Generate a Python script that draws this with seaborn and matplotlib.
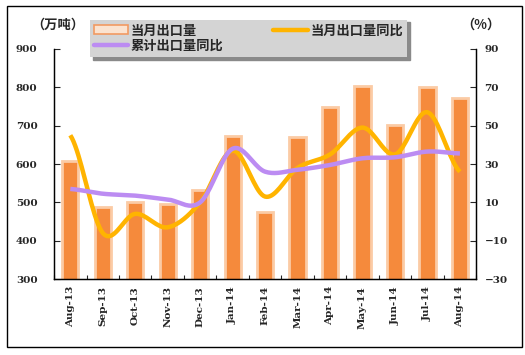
import numpy as np
import pandas as pd
import seaborn as sns
import matplotlib.pyplot as plt
from matplotlib.patches import Patch, Rectangle
from matplotlib.lines import Line2D

months = ['Aug-13', 'Sep-13', 'Oct-13', 'Nov-13', 'Dec-13', 'Jan-14', 'Feb-14',
          'Mar-14', 'Apr-14', 'May-14', 'Jun-14', 'Jul-14', 'Aug-14']
export_volume = [609, 487, 502, 496, 533, 673, 476, 671, 748, 803, 702, 800, 771]
monthly_yoy = [45, -6, 4, -3, 10, 37, 13, 28, 35, 49, 35, 57, 26]
cumulative_yoy = [17, 14.5, 13.5, 11.5, 10, 38, 26, 27, 29.5, 33, 33.5, 36.5, 35.5]


def smooth(y, steps=20):
    # Catmull-Rom spline through the points, like Excel's smoothed line
    p = np.array(y, dtype=float)
    p = np.concatenate([[p[0]], p, [p[-1]]])
    xs, ys = [], []
    for i in range(1, len(p) - 2):
        t = np.linspace(0, 1, steps, endpoint=False)
        p0, p1, p2, p3 = p[i - 1], p[i], p[i + 1], p[i + 2]
        yy = 0.5 * ((2 * p1) + (-p0 + p2) * t + (2 * p0 - 5 * p1 + 4 * p2 - p3) * t ** 2
                    + (-p0 + 3 * p1 - 3 * p2 + p3) * t ** 3)
        xs.extend(i - 1 + t)
        ys.extend(yy)
    xs.append(len(y) - 1)
    ys.append(y[-1])
    return np.array(xs), np.array(ys)


sns.set_style("white")
plt.rcParams['font.family'] = ['Noto Sans CJK SC', 'DejaVu Sans']

fig = plt.figure(figsize=(5.25, 3.55), dpi=100)
ax = fig.add_axes([0.103, 0.214, 0.804, 0.648])

df = pd.DataFrame({'month': months, 'volume': export_volume})
sns.barplot(data=df, x='month', y='volume', color='#F58A3C', width=0.5,
            edgecolor='#FBCBA5', linewidth=2, saturation=1, ax=ax)
ax.set_ylim(300, 900)
ax.set_xlim(-0.5, len(months) - 0.5)
ax.set_yticks(range(300, 901, 100))
ax.set_xlabel('')
ax.set_ylabel('')

ax2 = ax.twinx()
x1, y1 = smooth(monthly_yoy)
x2, y2 = smooth(cumulative_yoy)
ax2.plot(x1, y1, color='#FFB400', lw=3.2, solid_capstyle='butt')
ax2.plot(x2, y2, color='#BC8CF2', lw=3.2, solid_capstyle='butt')
ax2.set_ylim(-30, 90)
ax2.set_yticks(range(-30, 91, 20))

tick_font = dict(family='DejaVu Serif', weight='bold', size=7.5)
ax.set_xticks(np.arange(len(months) + 1) - 0.5, minor=True)
ax.set_xticks(range(len(months)))
ax.set_xticklabels(months, rotation=90, **tick_font)
ax.set_yticklabels([str(v) for v in range(300, 901, 100)], **tick_font)
ax2.set_yticklabels([str(v).replace('-', '\u2212') for v in range(-30, 91, 20)], **tick_font)
ax.tick_params(axis='x', which='major', length=0, pad=5)
ax.tick_params(axis='x', which='minor', direction='in', length=3, width=0.8, bottom=True)
ax.tick_params(axis='y', direction='in', length=4, width=0.8, left=True, pad=12)
ax2.tick_params(axis='y', direction='in', length=4, width=0.8, right=True, pad=6)

for a in (ax, ax2):
    a.spines['top'].set_visible(False)
    for s in ('left', 'bottom', 'right'):
        a.spines[s].set_color('black')
        a.spines[s].set_linewidth(0.9)
    a.grid(False)

fig.text(0.11, 0.93, '（万吨）', ha='center', va='center', fontsize=9.5, fontweight='bold')
fig.text(0.915, 0.93, '（%）', ha='center', va='center', fontsize=9.5, fontweight='bold')

# column-major fill: first column gets items 0 and 1, second column item 2
handles = [Patch(facecolor='#FBE3D0', edgecolor='#F29A62', linewidth=1.2),
           Line2D([], [], color='#BC8CF2', lw=3.2),
           Line2D([], [], color='#FFB400', lw=3.2)]
labels = ['当月出口量', '累计出口量同比', '当月出口量同比']
leg = fig.legend(handles, labels, ncol=2, loc='upper left',
                 bbox_to_anchor=(0.171, 0.945, 0.604, 0.0), mode='expand',
                 prop=dict(family=['Noto Sans CJK SC', 'DejaVu Sans'], weight='bold', size=9.5),
                 facecolor='#D4D4D4', edgecolor='none', framealpha=1, fancybox=False,
                 shadow=dict(color='#8A8A8A', alpha=1), handlelength=2.6, handletextpad=0.2,
                 borderpad=0.3, labelspacing=0.1, columnspacing=1.0, borderaxespad=0)

fig.patches.append(Rectangle((0.013, 0.022), 0.981, 0.96, transform=fig.transFigure,
                             fill=False, edgecolor='black', linewidth=1))

fig.savefig('out.png', dpi=100)
